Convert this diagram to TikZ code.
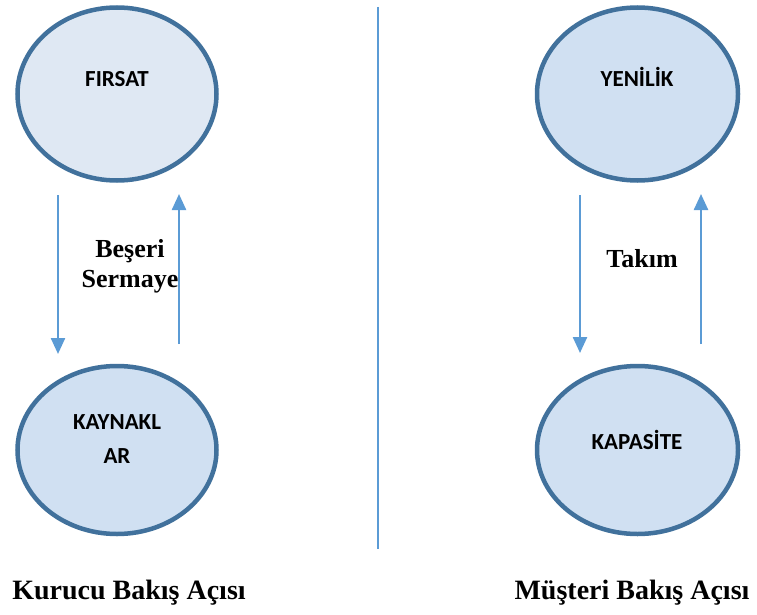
\documentclass[tikz,border=0pt]{standalone}
\usepackage{fontspec}
\setmainfont{Liberation Serif}
\newfontfamily\calib{Carlito}
\usetikzlibrary{shapes.geometric,arrows.meta}
\definecolor{ringc}{HTML}{41719C}
\definecolor{fillA}{HTML}{DFE8F3}
\definecolor{fillB}{HTML}{D0E0F2}
\definecolor{arrc}{HTML}{5B9BD5}
\tikzset{
  circ/.style={ellipse, draw=ringc, line width=4.5pt, minimum width=199pt, minimum height=173pt, inner sep=0pt},
  ctext/.style={anchor=base, inner sep=0pt, font=\calib\bfseries\fontsize{23}{27}\selectfont},
  ttext/.style={anchor=base, inner sep=0pt, font=\bfseries\fontsize{26}{30}\selectfont},
  btext/.style={anchor=base, inner sep=0pt, font=\bfseries\fontsize{28}{32}\selectfont},
  flow/.style={draw=arrc, line width=2.4pt, -{Triangle[width=14pt,length=16pt]}},
  divider/.style={draw=arrc, line width=2pt}
}
\begin{document}
\begin{tikzpicture}[x=1pt,y=-1pt]
\useasboundingbox (0,0) rectangle (757,615);
% ellipses
\node[circ, fill=fillA] (firsat) at (117,94) {};
\node[circ, fill=fillB, minimum height=168pt] (kaynak) at (117,450) {};
\node[circ, fill=fillB, minimum width=201pt] (yenilik) at (637.5,94) {};
\node[circ, fill=fillB, minimum width=201pt, minimum height=168pt] (kapasite) at (637.5,450) {};
% ellipse texts
\node[ctext] (tfirsat) at (117,87) {FIRSAT};
\node[ctext] (tkay1) at (117,429) {KAYNAKL};
\node[ctext] (tkay2) at (117,463) {AR};
\node[ctext] (tyen) at (637,87) {YEN\.{I}L\.{I}K};
\node[ctext] (tkap) at (637,449) {KAPAS\.{I}TE};
% arrows
\coordinate (l1a) at (58,195);
\coordinate (l1b) at (58,354);
\coordinate (l2a) at (179,344);
\coordinate (l2b) at (179,194);
\coordinate (r1a) at (580,195);
\coordinate (r1b) at (580,353);
\coordinate (r2a) at (701,344);
\coordinate (r2b) at (701,194);
\draw[flow] (l1a) -- (l1b);
\draw[flow] (l2a) -- (l2b);
\draw[flow] (r1a) -- (r1b);
\draw[flow] (r2a) -- (r2b);
% divider
\coordinate (dtop) at (378,7);
\coordinate (dbot) at (378,549);
\draw[divider] (dtop) -- (dbot);
% middle labels
\node[ttext] (besa) at (130,257) {Beşeri};
\node[ttext] (besb) at (130,287) {Sermaye};
\node[ttext] (takim) at (642,267) {Takım};
% bottom labels
\node[btext] (kurucu) at (129,599) {Kurucu Bakış Açısı};
\node[btext] (musteri) at (632,599) {Müşteri Bakış Açısı};
\end{tikzpicture}
\end{document}
